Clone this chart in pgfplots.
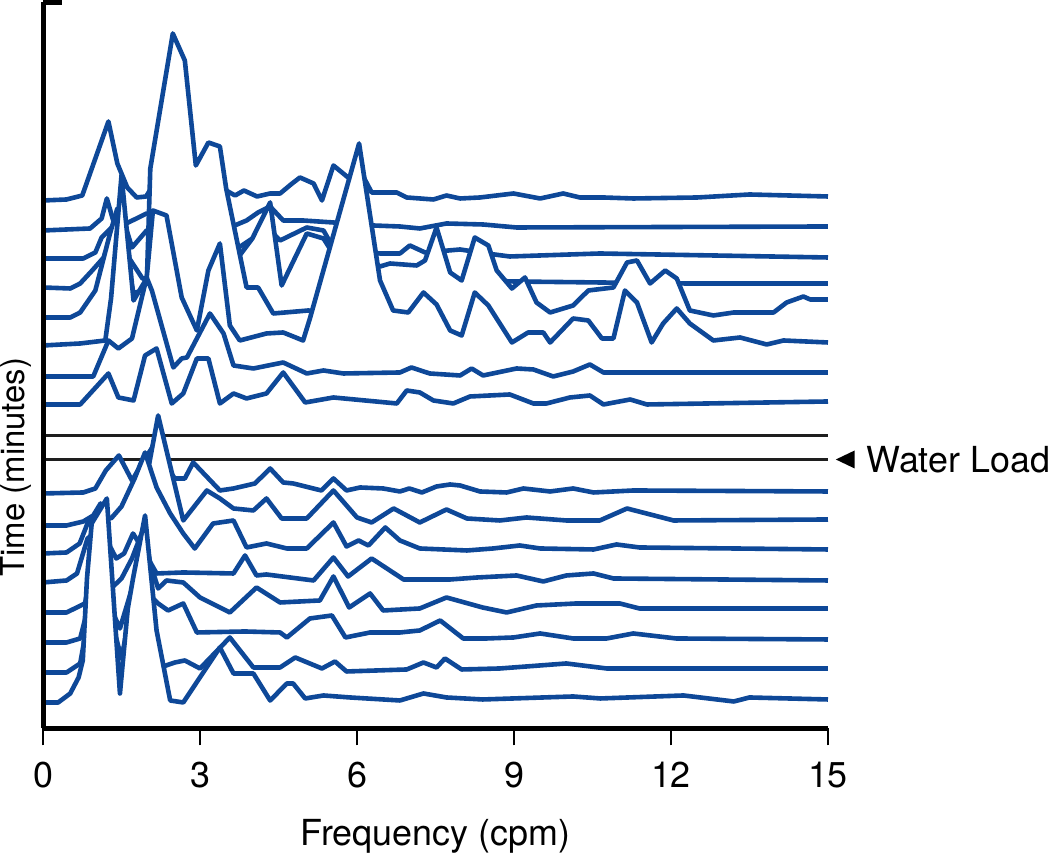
\documentclass[border=0pt]{standalone}
\usepackage{fontspec}
\setmainfont{TeX Gyre Heros}
\usepackage{pgfplots}
\usepackage{pgfplotstable}
\pgfplotsset{compat=1.18}
\definecolor{wblue}{RGB}{14,72,152}
\definecolor{wblack}{RGB}{30,30,30}

% spectra stacked in time, y in picture units (baseline + amplitude)
\pgfplotstableread{
x y
0 528
0.45 529
0.75 533
1.25 607
1.42 565
1.61 541
1.79 531
1.97 532
2.04 538
2.3 560
2.7 560
3.0 545
3.5 538
3.67 533
3.84 538
4.09 532
4.34 535
4.53 535
4.76 545
4.91 551
5.17 545
5.33 528
5.55 563
5.9 548
6.04 560
6.28 536
6.76 536
6.95 531
7.46 529
7.71 533
7.97 530
8.35 531
8.99 535
9.5 530
9.94 535
10.26 531
10.71 531
11.28 530
12.5 531
13.5 534
15 532
}\tTa
\pgfplotstableread{
x y
0 498
0.9 500
1.12 510
1.22 530
1.38 501
1.63 506
1.98 515
2.3 505
3.0 500
3.57 501
3.89 508
4.11 516
4.34 522
4.59 508
4.97 508
5.55 506
6.31 503
6.82 502
7.2 500
7.71 505
8.41 504
9.05 501
15 502
}\tTb
\pgfplotstableread{
x y
0 470
0.77 470
1.0 476
1.12 491
1.31 501
1.5 515
1.7 481
1.98 498
2.3 480
3.0 472
3.57 475
4.0 490
4.34 498
4.53 488
5.04 501
5.36 498
5.52 483
5.9 478
6.44 475
6.82 475
7.01 483
7.3 476
7.97 479
8.48 475
8.92 472
10.64 475
15 471
}\tTc
\pgfplotstableread{
x y
0 441
0.52 440
0.71 445
0.94 458
1.16 471
1.35 500
1.5 520
1.65 470
1.9 450
2.3 450
3.0 448
3.57 460
4.0 490
4.34 526
4.56 443
5.04 495
5.36 490
5.6 470
6.0 455
6.5 452
7.0 450
9.0 447
12.3 445
15 445
}\tTd
\pgfplotstableread{
x y
0 411
0.52 411
0.71 416
1.0 438
1.28 495
1.42 520
1.6 470
1.73 435
1.98 440
2.05 560
2.48 695
2.71 668
2.92 563
3.16 586
3.38 582
3.5 540
3.89 441
4.11 441
4.4 415
5.07 418
5.36 416
5.55 410
5.9 440
6.2 470
6.44 462
6.63 465
7.14 463
7.3 468
7.52 501
7.78 456
8.0 448
8.25 491
8.51 483
8.67 458
8.96 440
9.21 451
9.43 426
9.69 416
10.13 423
10.42 438
10.9 441
11.16 466
11.35 468
11.6 445
11.89 458
12.11 450
12.36 418
12.81 413
13.2 416
13.96 416
14.21 426
14.53 432
14.66 429
15 429
}\tTe
\pgfplotstableread{
x y
0 383
0.71 385
1.19 388
1.3 430
1.5 553
1.73 428
1.98 450
2.1 518
2.36 513
2.65 431
2.94 398
3.16 458
3.38 485
3.57 403
3.76 388
4.27 395
4.59 396
4.97 388
5.1 410
6.04 585
6.44 448
6.69 418
6.98 416
7.27 436
7.52 424
7.78 398
8.0 393
8.25 436
8.51 423
8.96 386
9.27 396
9.56 396
9.69 386
10.13 410
10.42 408
10.68 390
10.9 390
11.12 438
11.35 426
11.63 386
11.85 405
12.11 420
12.36 405
12.81 388
13.32 391
13.83 384
14.15 388
15 386
}\tTf
\pgfplotstableread{
x y
0 352
0.96 352
1.25 388
1.44 380
1.7 390
1.98 451
2.08 438
2.49 361
2.65 370
2.75 371
3.19 415
3.45 395
3.64 363
4.02 360
4.59 366
5.04 355
5.36 358
5.74 355
6.82 356
7.04 361
7.39 355
7.97 353
8.19 360
8.41 353
9.05 360
9.37 359
9.75 352
10.13 357
10.45 364
10.71 356
15 356
}\tTg
\pgfplotstableread{
x y
0 324
0.71 324
1.25 355
1.44 331
1.73 328
1.95 373
2.17 380
2.46 325
2.68 335
2.94 370
3.16 370
3.38 325
3.64 335
3.89 330
4.27 335
4.59 356
5.01 326
5.55 331
6.76 325
6.95 338
7.2 336
7.46 328
7.84 325
8.16 332
8.92 334
9.37 325
9.62 325
10.07 331
10.45 333
10.71 324
11.22 329
11.54 324
15 327
}\tTh
\pgfplotstableread{
x y
0 293
15 293
}\tKa
\pgfplotstableread{
x y
0 269
15 269
}\tKb
\pgfplotstableread{
x y
0 235
0.77 236
1.0 240
1.2 258
1.45 273
1.7 248
1.95 270
2.2 290
2.45 255
2.52 250
2.71 250
2.87 266
3.38 238
3.64 240
4.05 245
4.34 260
4.59 246
4.78 245
5.32 238
5.55 250
5.8 238
6.06 241
6.5 240
6.82 237
7.0 240
7.24 236
7.52 242
7.78 244
7.97 243
8.35 237
8.86 236
9.18 240
9.69 237
10.13 240
10.52 236
11.28 238
15 237
}\tBa
\pgfplotstableread{
x y
0 203
0.45 203
0.77 207
0.96 213
1.1 225
1.28 205
1.5 211
1.69 231
1.95 270
2.03 265
2.2 313
2.68 208
3.13 238
3.38 230
3.64 220
4.02 218
4.27 230
4.56 210
5.04 210
5.55 238
6.0 211
6.28 206
6.7 220
7.2 206
7.71 219
8.1 210
8.73 208
9.24 211
10.0 208
10.64 208
11.16 220
12.05 208
15 209
}\tBb
\pgfplotstableread{
x y
0 175
0.45 176
0.7 185
0.85 205
1.1 215
1.3 210
1.5 222
1.75 250
1.95 276
2.17 241
2.43 215
2.68 195
2.9 180
3.25 205
3.64 208
3.89 181
4.27 185
4.66 180
5.04 180
5.55 206
5.8 182
6.03 188
6.22 183
6.54 201
6.82 188
7.2 180
8.1 178
8.6 180
9.11 183
9.5 180
10.52 179
10.96 184
11.4 181
15 179
}\tBc
\pgfplotstableread{
x y
0 146
0.45 148
0.65 155
0.85 190
1.1 200
1.4 170
1.55 175
1.72 195
1.9 180
2.17 155
2.68 156
3.64 155
3.86 173
4.08 153
4.27 154
5.17 148
5.55 171
5.83 152
6.28 170
6.89 149
7.78 149
8.3 151
9.05 153
9.56 147
10.0 153
10.52 155
10.9 150
15 148
}\tBd
\pgfplotstableread{
x y
0 116
0.45 116
0.8 125
1.0 170
1.3 140
1.5 150
1.7 170
1.92 200
2.05 165
2.2 140
2.36 148
2.68 146
3.0 131
3.57 116
4.08 141
4.53 126
5.29 128
5.55 152
5.85 121
6.25 135
6.5 118
7.2 120
7.71 131
8.4 121
8.86 116
9.43 123
10.19 125
11.02 125
11.4 120
15 120
}\tBe
\pgfplotstableread{
x y
0 86
0.45 86
0.71 90
1.0 150
1.3 120
1.47 100
1.7 140
1.85 165
2.0 135
2.2 125
2.39 118
2.68 125
2.94 96
3.86 97
4.53 96
4.66 91
5.1 110
5.52 113
5.78 91
6.25 96
6.82 96
7.2 98
7.59 108
8.03 90
8.48 90
8.99 91
9.5 95
10.13 90
10.77 90
11.28 95
12.1 90
15 89
}\tBf
\pgfplotstableread{
x y
0 56
0.45 56
0.71 65
0.9 120
1.2 130
1.35 100
1.5 70
1.75 140
1.9 150
2.05 105
2.24 61
2.52 66
2.71 68
3.0 60
3.57 91
4.02 61
4.53 61
4.82 71
5.33 60
5.58 67
5.8 57
6.95 59
7.27 66
7.52 61
7.68 70
8.0 59
8.73 60
10.0 65
10.77 60
15 60
}\tBg
\pgfplotstableread{
x y
0 26
0.29 26
0.52 35
0.68 51
0.76 68
0.84 150
0.93 205
1.22 230
1.47 35
1.62 120
1.72 150
1.95 213
2.17 98
2.43 28
2.68 26
3.38 81
3.64 55
4.02 55
4.34 28
4.66 45
4.78 45
5.01 30
5.36 33
5.87 31
6.82 28
7.27 35
7.71 31
8.4 29
10.13 32
10.65 30
12.24 33
13.2 27
13.5 31
15 29
}\tBh

\tikzset{
  hide/.style={fill=white, draw=none},
  trace/.style={draw=wblue, line width=2.3bp, line join=round},
  marker/.style={draw=wblack, line width=1.8bp},
}

\begin{document}
\begin{tikzpicture}[font=\fontsize{18}{21.6}\selectfont]
\begin{axis}[
    scale only axis,
    width=392.5bp, height=363bp,
    xmin=0, xmax=15, ymin=0, ymax=726,
    axis x line*=bottom, axis y line*=left,
    axis line style={line width=2.5bp, black, -},
    xtick={0,3,...,15}, ytick=\empty,
    tick align=outside,
    major tick length=8.5bp,
    x tick style={line width=1.4bp, black},
    /pgf/number format/assume math mode=true,
    xticklabel style={font=\fontsize{18}{21.6}\selectfont, yshift=-5bp},
    xlabel={Frequency (cpm)},
    ylabel={Time (minutes)},
    xlabel style={font=\fontsize{18}{21.6}\selectfont, inner sep=0pt, at={(axis description cs:0.5,0)}, anchor=center, yshift=-54bp},
    ylabel style={font=\fontsize{16.5}{20}\selectfont, inner sep=0pt, at={(axis description cs:-0.035,0.36)}, anchor=center},
    axis on top,
    clip=false,
]
% back (top) to front (bottom), each one hides what lies behind it
\addplot[hide] table {\tTa} \closedcycle;
\addplot[trace] table {\tTa};
\addplot[hide] table {\tTb} \closedcycle;
\addplot[trace] table {\tTb};
\addplot[hide] table {\tTc} \closedcycle;
\addplot[trace] table {\tTc};
\addplot[hide] table {\tTd} \closedcycle;
\addplot[trace] table {\tTd};
\addplot[hide] table {\tTe} \closedcycle;
\addplot[trace] table {\tTe};
\addplot[hide] table {\tTf} \closedcycle;
\addplot[trace] table {\tTf};
\addplot[hide] table {\tTg} \closedcycle;
\addplot[trace] table {\tTg};
\addplot[hide] table {\tTh} \closedcycle;
\addplot[trace] table {\tTh};
\addplot[marker] table {\tKa};
\addplot[marker] table {\tKb};
\addplot[hide] table {\tBa} \closedcycle;
\addplot[trace] table {\tBa};
\addplot[hide] table {\tBb} \closedcycle;
\addplot[trace] table {\tBb};
\addplot[hide] table {\tBc} \closedcycle;
\addplot[trace] table {\tBc};
\addplot[hide] table {\tBd} \closedcycle;
\addplot[trace] table {\tBd};
\addplot[hide] table {\tBe} \closedcycle;
\addplot[trace] table {\tBe};
\addplot[hide] table {\tBf} \closedcycle;
\addplot[trace] table {\tBf};
\addplot[hide] table {\tBg} \closedcycle;
\addplot[trace] table {\tBg};
\addplot[hide] table {\tBh} \closedcycle;
\addplot[trace] table {\tBh};

% cap at the top of the time axis
\draw[line width=2.5bp] (axis cs:0,726) -- (axis cs:0.37,726);
% water load marker
\fill[black] (axis cs:15.15,269) -- (axis cs:15.51,278) -- (axis cs:15.51,260) -- cycle;
\node[anchor=west, inner sep=0pt] at (axis cs:15.73,269) {Water Load};
% page frame
\path (axis cs:-0.822,-134) rectangle (axis cs:19.24,728);
\end{axis}
\end{tikzpicture}
\end{document}
